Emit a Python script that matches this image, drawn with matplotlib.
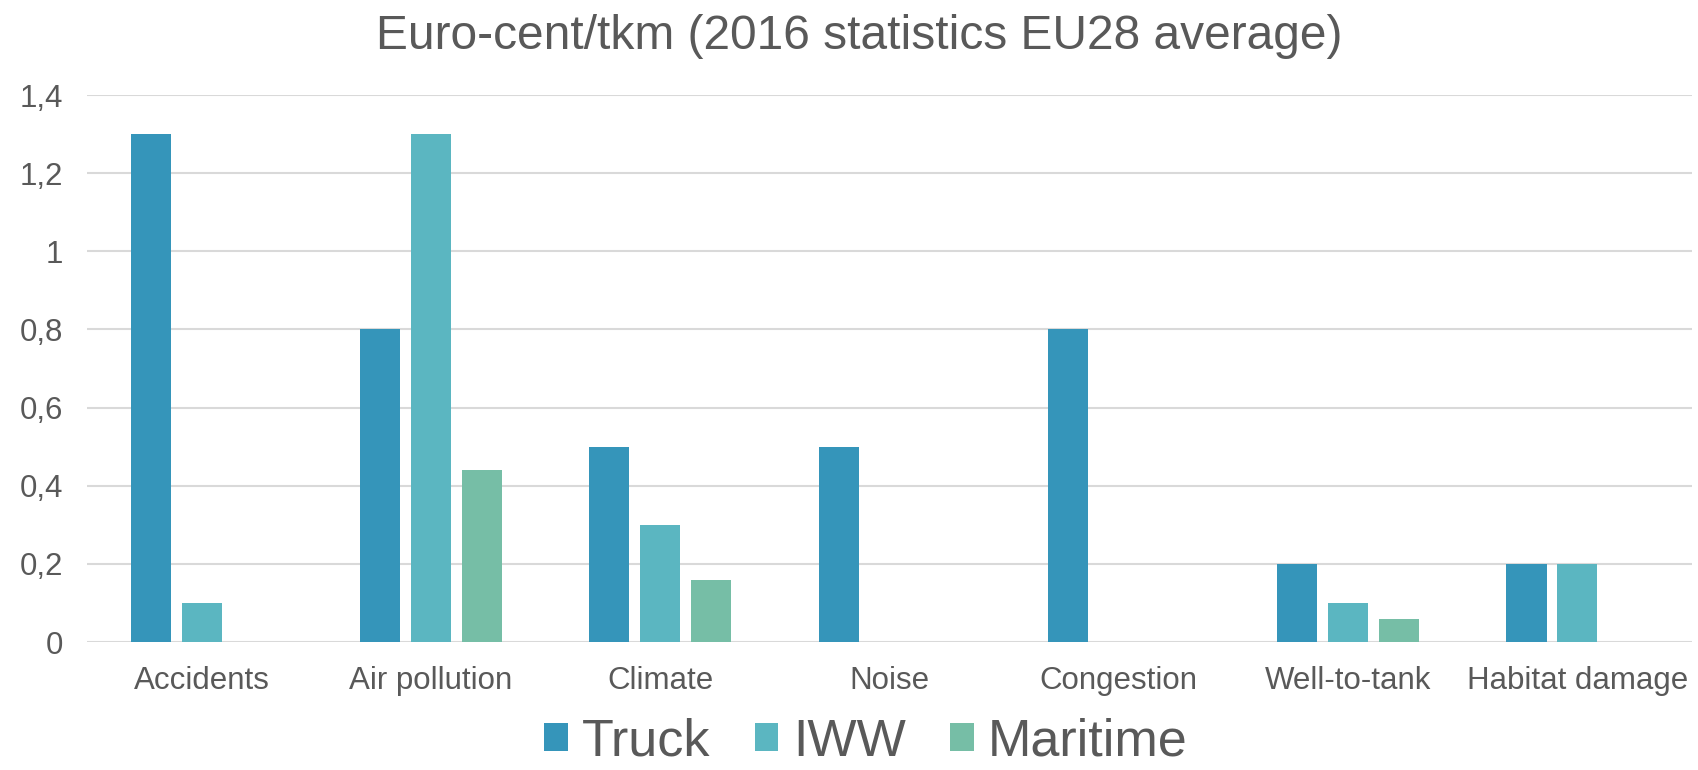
import numpy as np
import matplotlib
matplotlib.use("Agg")
import matplotlib.pyplot as plt
from matplotlib.ticker import FuncFormatter

categories = ["Accidents", "Air pollution", "Climate", "Noise", "Congestion",
              "Well-to-tank", "Habitat damage"]
series = ["Truck", "IWW", "Maritime"]
truck = [1.3, 0.8, 0.5, 0.5, 0.8, 0.2, 0.2]
iww = [0.1, 1.3, 0.3, 0.0, 0.0, 0.1, 0.2]
maritime = [0.0, 0.44, 0.16, 0.0, 0.0, 0.06, 0.0]
colors = ["#3595BA", "#5BB6C1", "#76BEA6"]

plt.rcParams.update({
    "font.family": ["Liberation Sans", "DejaVu Sans"],
    "text.color": "#595959",
    "xtick.color": "#595959",
    "ytick.color": "#595959",
})

fig = plt.figure(figsize=(16.98, 7.7), dpi=100)
ax = fig.add_axes([0.0512, 0.1662, 0.9453, 0.7104])

x = np.arange(len(categories))
width = 0.175
step = 0.222
for i, (vals, name, c) in enumerate(zip([truck, iww, maritime], series, colors)):
    ax.bar(x + (i - 1) * step, vals, width, color=c, label=name, linewidth=0,
           zorder=3)

ax.set_xlim(-0.5, len(categories) - 0.5)
ax.set_ylim(0, 1.4)
ax.set_yticks(np.arange(0, 1.41, 0.2))
ax.yaxis.set_major_formatter(FuncFormatter(
    lambda v, _: f"{v:.1f}".rstrip("0").rstrip(".").replace(".", ",")))
ax.set_xticks(x)
ax.set_xticklabels(categories)
ax.tick_params(axis="both", length=0, labelsize=22.5)
ax.tick_params(axis="x", pad=17)
ax.tick_params(axis="y", pad=17)
ax.grid(True, axis="y", color="#d9d9d9", linewidth=1.5, zorder=0)
for s in ax.spines.values():
    s.set_visible(False)

fig.text(0.506, 0.952, "Euro-cent/tkm (2016 statistics EU28 average)",
         ha="center", va="center", fontsize=34.5, color="#595959")

handles, labels = ax.get_legend_handles_labels()
fig.legend(handles, labels, loc="center", bbox_to_anchor=(0.51, 0.036),
           ncol=3, frameon=False, fontsize=37.5, handlelength=0.45,
           handleheight=0.45, handletextpad=0.28, columnspacing=0.85,
           borderpad=0.0)

fig.savefig("out.png", dpi=100)
